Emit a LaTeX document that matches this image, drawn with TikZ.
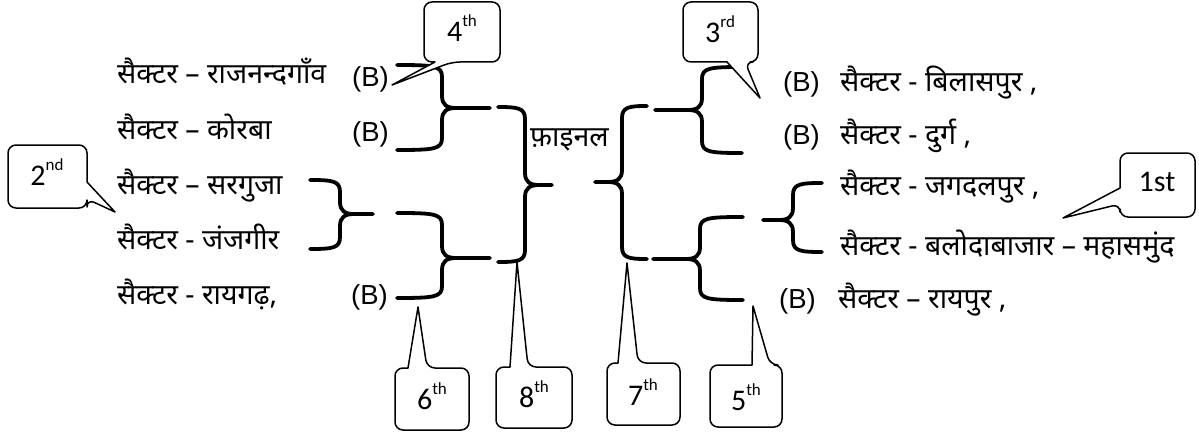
\documentclass[tikz,border=0pt]{standalone}
\usepackage{fontspec}
\newfontfamily\devfont[Script=Devanagari]{Noto Sans}
\newfontfamily\latfont{Liberation Sans}
\newfontfamily\calfont{Carlito}
\newcommand{\mybrace}[8]{%
  \draw[brk] (#2,#5) .. controls ({#3-#8*7},#5) and (#3,{#5+1}) .. (#3,{#5+12})
     -- (#3,{#6-12}) .. controls (#3,{#6-3}) and ({#3+#8*5},#6) .. ({#3+#8*14},#6) -- (#4,#6);
  \draw[brk] (#2,#7) .. controls ({#3-#8*7},#7) and (#3,{#7-1}) .. (#3,{#7-12})
     -- (#3,{#6+12}) .. controls (#3,{#6+3}) and ({#3+#8*5},#6) .. ({#3+#8*14},#6);
  \coordinate (#1) at (#4,#6);
}
\newcommand{\ordl}[2]{#1\raisebox{0.5em}{\fontsize{17}{17}\selectfont #2}}
\tikzset{
  dtext/.style={font=\devfont\fontsize{28.5}{32}\selectfont, anchor=base west, inner sep=0pt},
  btext/.style={font=\latfont\fontsize{27.5}{31}\selectfont, anchor=base west, inner sep=0pt},
  brk/.style={line width=3.8pt, line cap=round, line join=round},
  callline/.style={line width=1.5pt, line join=round, fill=white},
  calltext/.style={font=\calfont\fontsize{30}{32}\selectfont, inner sep=0pt}
}
\begin{document}
\begin{tikzpicture}[x=1pt,y=-1pt]
\useasboundingbox (0,0) rectangle (1199,436);
\fill[white] (0,0) rectangle (1199,436);

% left texts
\node[dtext] (l1) at (117,84) {सैक्टर – राजनन्दगाँव};
\node[btext] (l1b) at (352,86) {(B)};
\node[dtext] (l2) at (117,139) {सैक्टर – कोरबा};
\node[btext] (l2b) at (352,141) {(B)};
\node[dtext] (l3) at (117,194) {सैक्टर – सरगुजा};
\node[dtext] (l4) at (117,249) {सैक्टर - जंजगीर};
\node[dtext] (l5) at (117,304) {सैक्टर - रायगढ़,};
\node[btext] (l5b) at (351,304) {(B)};

% right texts
\node[btext] (r1b) at (783,92) {(B)};
\node[dtext] (r1) at (840,92) {सैक्टर - बिलासपुर ,};
\node[btext] (r2b) at (783,144) {(B)};
\node[dtext] (r2) at (840,144) {सैक्टर - दुर्ग ,};
\node[dtext] (r3) at (840,195) {सैक्टर - जगदलपुर ,};
\node[dtext] (r4) at (840,255) {सैक्टर - बलोदाबाजार – महासमुंद};
\node[btext] (r5b) at (779,308) {(B)};
\node[dtext] (r5) at (838,308) {सैक्टर – रायपुर ,};

\node[dtext] (fin) at (530,146) {फ़ाइनल};

% braces
\mybrace{bA}{397}{442}{490}{65}{108}{150}{1}
\mybrace{bB}{310}{340}{373}{180}{214}{249}{1}
\mybrace{bC}{397}{442}{490}{213}{258}{298}{1}
\mybrace{bD}{498}{525}{552}{107}{185}{262}{1}
\mybrace{bE}{647}{622}{595}{106}{182}{259}{-1}
\mybrace{bF}{742}{702}{655}{67}{110}{153}{-1}
\mybrace{bG}{743}{700}{653}{217}{259}{300}{-1}
\mybrace{bH}{822}{793}{763}{183}{220}{252}{-1}

% callouts
\draw[callline] (435,62) [rounded corners=8pt] -- (424,62) -- (424,2) -- (500,2) -- (500,62) -- (452,62) [sharp corners] -- (392,85) -- cycle;
\node[calltext] (c4) at (462,28) {\ordl{4}{th}};
\draw[callline] (727,62) [rounded corners=8pt] -- (683,62) -- (683,2) -- (758,2) -- (758,62) -- (745,62) [sharp corners] -- (760,98) -- cycle;
\node[calltext] (c3) at (720,29) {\ordl{3}{rd}};
\draw[callline] (87,182) [rounded corners=8pt] -- (87,145) -- (8,145) -- (8,208) -- (87,208) -- (87,199) [sharp corners] -- (115,212) -- cycle;
\node[calltext] (c2) at (47,172) {\ordl{2}{nd}};
\draw[callline] (1120,188) [rounded corners=8pt] -- (1120,153) -- (1195,153) -- (1195,217) -- (1120,217) -- (1120,204) [sharp corners] -- (1063,218) -- cycle;
\node[calltext] (c1) at (1157,182) {1st};
\draw[callline] (408,368) [rounded corners=8pt] -- (395,368) -- (395,430) -- (469,430) -- (469,368) -- (427,368) [sharp corners] -- (418,307) -- cycle;
\node[calltext] (c6) at (432,396) {\ordl{6}{th}};
\draw[callline] (510,367) [rounded corners=8pt] -- (496,367) -- (496,428) -- (572,428) -- (572,367) -- (528,367) [sharp corners] -- (517,262) -- cycle;
\node[calltext] (c8) at (534,394) {\ordl{8}{th}};
\draw[callline] (618,363) [rounded corners=8pt] -- (607,363) -- (607,425) -- (680,425) -- (680,363) -- (638,363) [sharp corners] -- (627,263) -- cycle;
\node[calltext] (c7) at (643,392) {\ordl{7}{th}};
\draw[callline] (752,365) [rounded corners=8pt] -- (710,365) -- (710,427) -- (782,427) -- (782,365) -- (770,365) [sharp corners] -- (753,306) -- cycle;
\node[calltext] (c5) at (746,397) {\ordl{5}{th}};
\end{tikzpicture}
\end{document}
